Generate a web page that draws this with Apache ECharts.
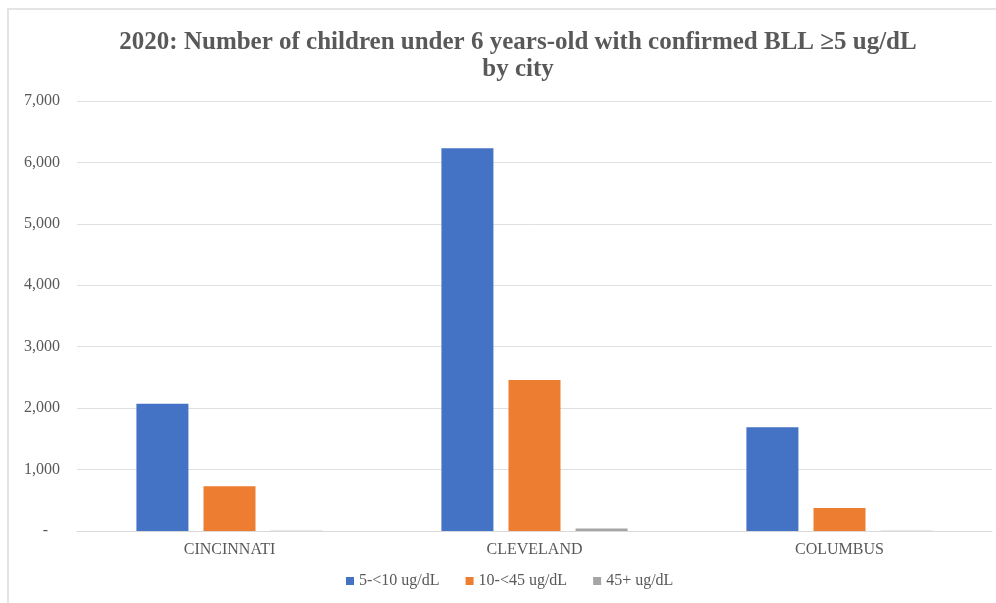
<!DOCTYPE html>
<html style="height: 100%">
<head>
<meta charset="utf-8" />
<title>BLL by city</title>
<script type="text/javascript" src="https://cdn.jsdelivr.net/npm/echarts@6/dist/echarts.min.js"></script>
<style>
  html, body { margin: 0; padding: 0; background: #fff; }
  #frame { position: absolute; left: 7px; top: 8px; width: 989px; height: 595px;
           border-left: 2px solid #e4e4e4; border-top: 2px solid #e4e4e4; box-sizing: border-box; }
  #container { position: absolute; left: 0; top: 0; width: 996px; height: 603px; }
</style>
</head>
<body>
<div id="frame"></div>
<div id="container"></div>
<script type="text/javascript">
  var cities = ['CINCINNATI', 'CLEVELAND', 'COLUMBUS'];
  var low = [2070, 6230, 1690];     // 5-<10 ug/dL
  var mid = [730, 2460, 375];       // 10-<45 ug/dL
  var high = [5, 40, 5];            // 45+ ug/dL
  var seriesNames = ['5-<10 ug/dL', '10-<45 ug/dL', '45+ ug/dL'];
  var colors = ['#4472C4', '#ED7D31', '#A5A5A5'];

  var serif = '"Liberation Serif", "DejaVu Serif", serif';
  var myChart = echarts.init(document.getElementById('container'));
  var allData = [low, mid, high];
  var series = [];
  for (var i = 0; i < allData.length; i++) {
    series.push({
      name: seriesNames[i],
      type: 'bar',
      data: allData[i],
      barWidth: 52,
      barGap: '29%',
      itemStyle: { color: colors[i] }
    });
  }

  var option = {
    animation: false,
    color: colors,
    title: {
      text: '2020: Number of children under 6 years-old with confirmed BLL \u22655 ug/dL\nby city',
      left: 513,
      textAlign: 'center',
      top: 24,
      textStyle: {
        fontFamily: serif,
        fontWeight: 'bold',
        fontSize: 25,
        lineHeight: 27,
        color: '#595959'
      }
    },
    legend: {
      bottom: 9,
      left: 341,
      itemWidth: 8,
      itemHeight: 8,
      itemGap: 26,
      icon: 'rect',
      textStyle: { fontFamily: serif, fontSize: 16, color: '#595959' },
      data: seriesNames
    },
    grid: { left: 77, right: 4, top: 101, bottom: 72, containLabel: false },
    xAxis: {
      type: 'category',
      data: cities,
      axisTick: { show: false },
      axisLine: { lineStyle: { color: '#d9d9d9', width: 1 } },
      axisLabel: { fontFamily: serif, fontSize: 16, color: '#595959', margin: 11 }
    },
    yAxis: {
      type: 'value',
      min: 0,
      max: 7000,
      interval: 1000,
      axisLine: { show: false },
      axisTick: { show: false },
      splitLine: { lineStyle: { color: '#e0e0e0', width: 1 } },
      axisLabel: {
        fontFamily: serif, fontSize: 16, color: '#595959', margin: 17,
        formatter: function (v) { return v === 0 ? '-   ' : v.toLocaleString('en-US'); }
      }
    },
    series: series
  };
  myChart.setOption(option);
</script>
</body>
</html>
